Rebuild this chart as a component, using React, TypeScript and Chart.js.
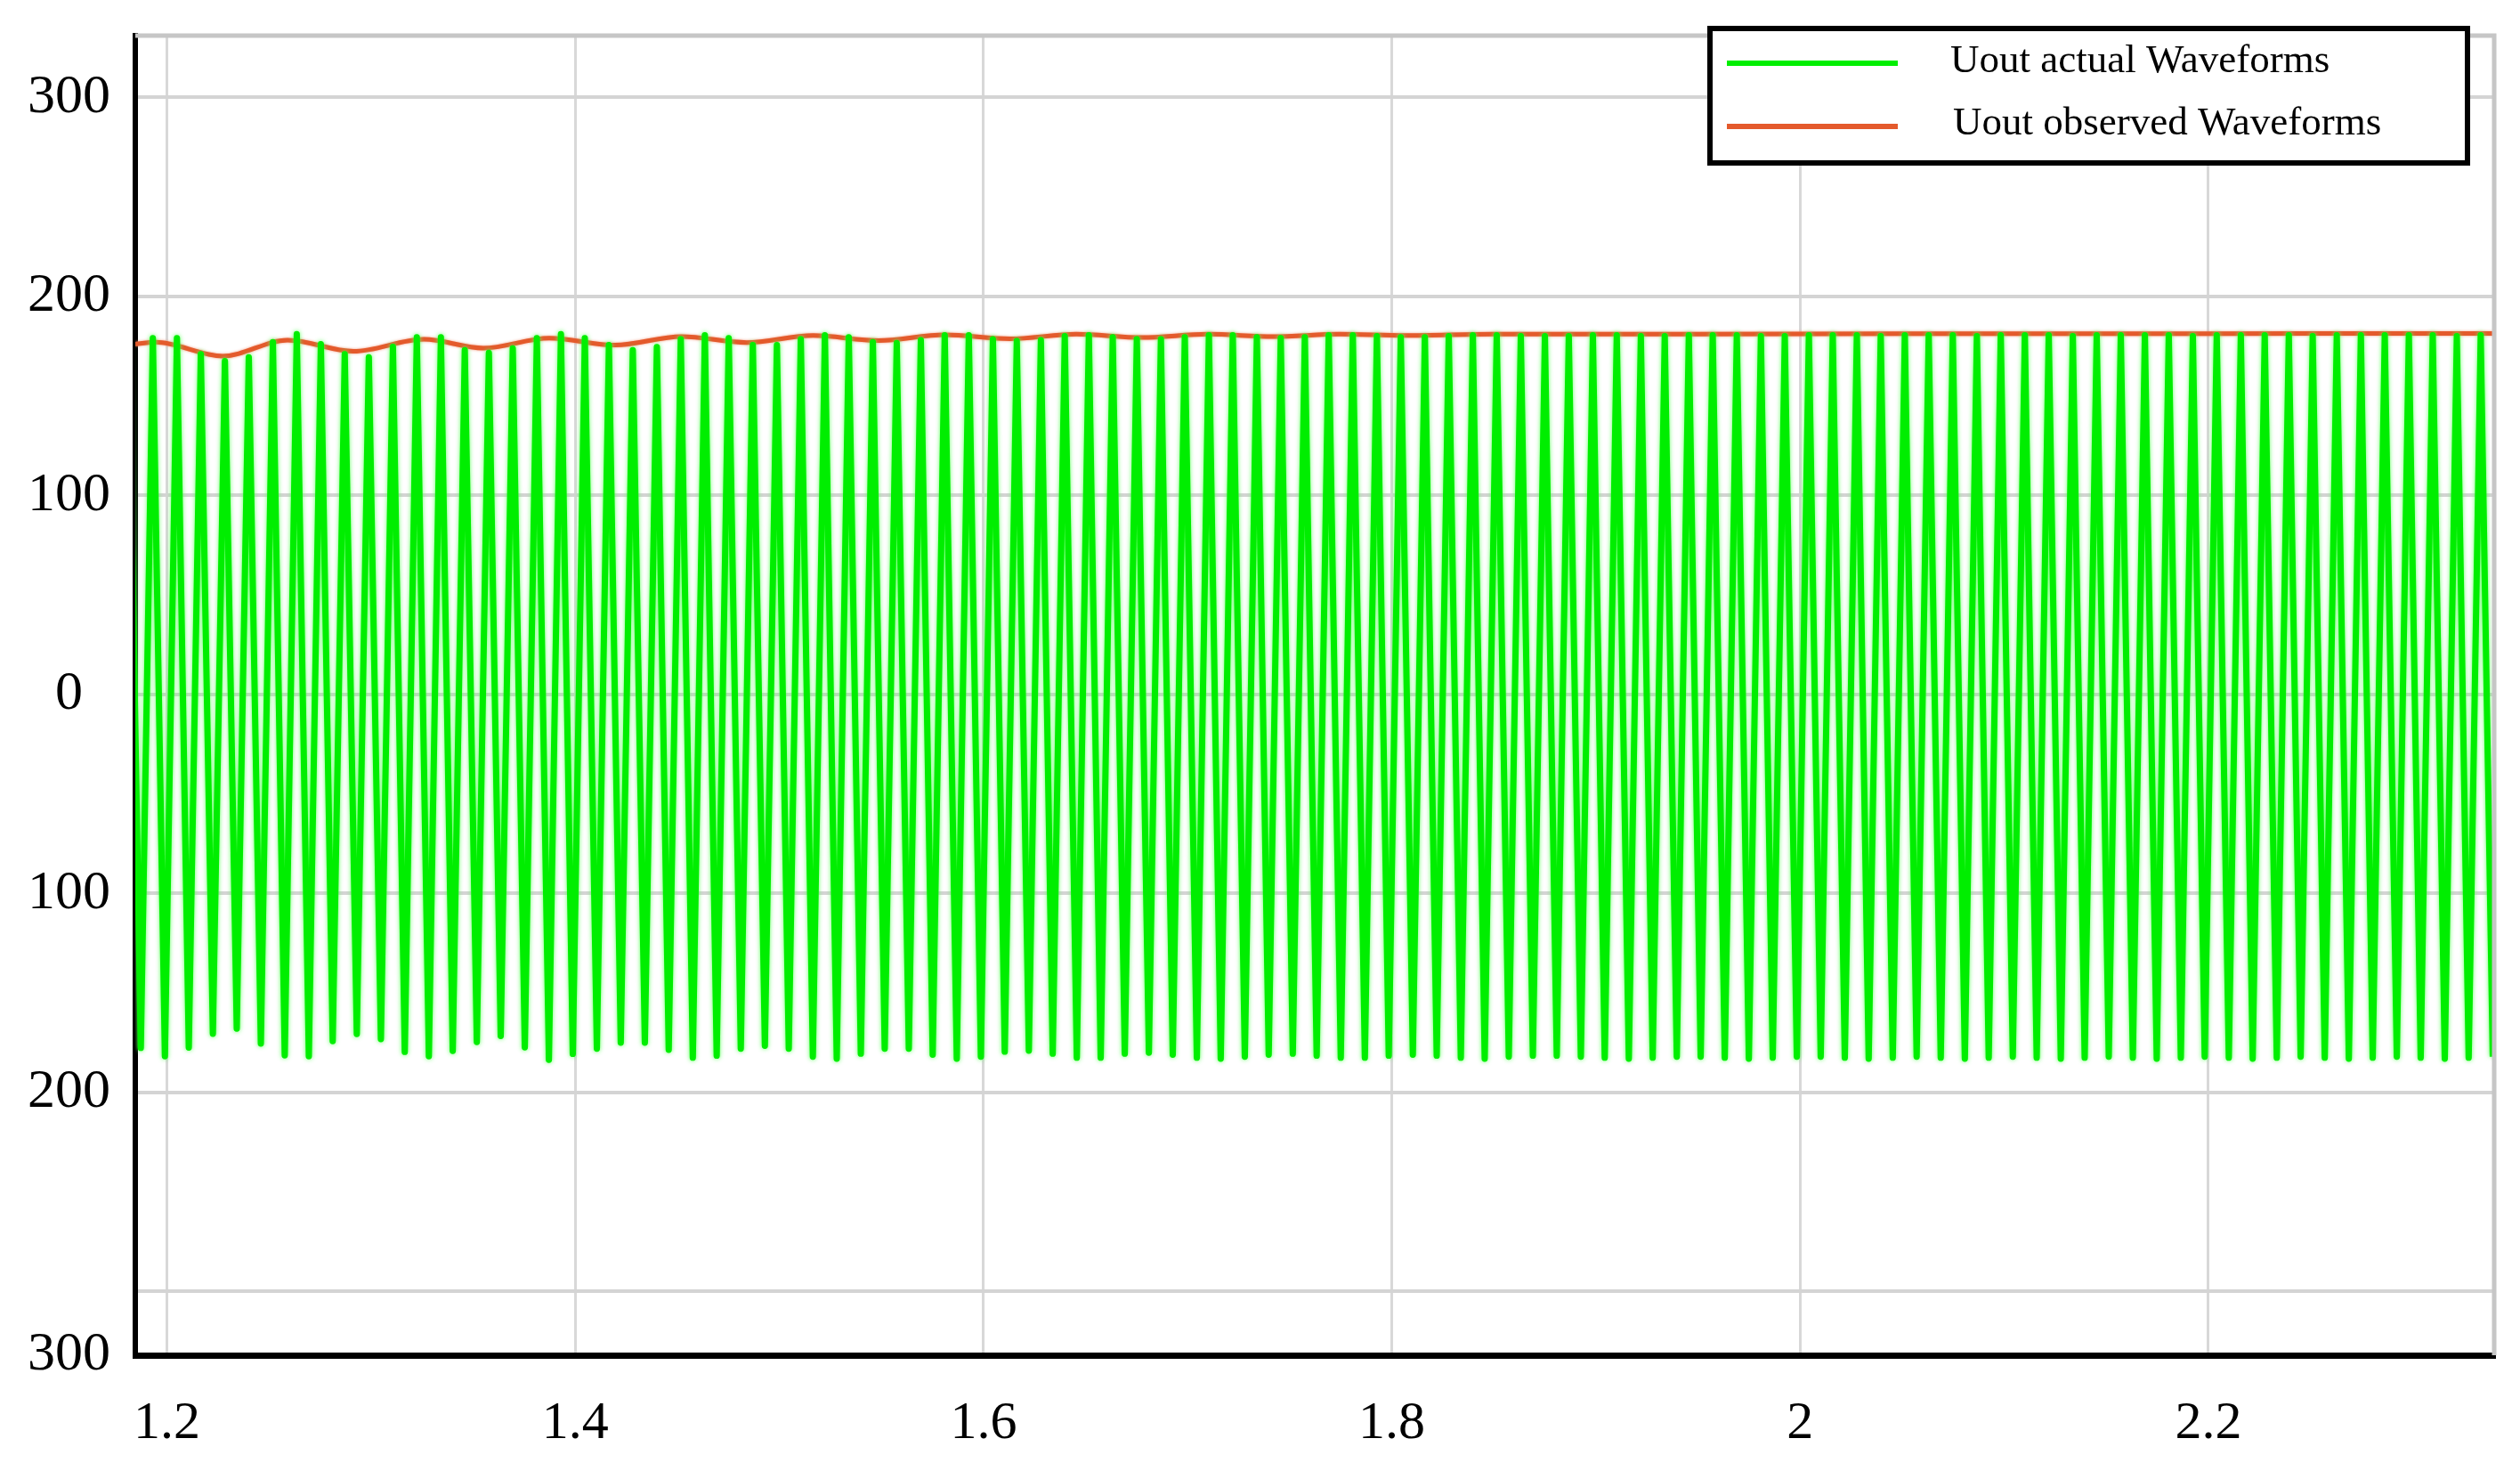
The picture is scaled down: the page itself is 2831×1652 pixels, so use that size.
import React, { useEffect, useRef } from "react";
import { Chart, registerables } from "chart.js";

Chart.register(...registerables);

// ---------- data ----------
const seriesLabels = ["Uout actual Waveforms", "Uout observed Waveforms"];
const seriesColors = ["#00EE00", "#E45A2C"];

// actual waveform: alternating peaks and troughs
const actualPeakTimes = [
  1.1813, 1.1931, 1.2049, 1.2166, 1.2284, 1.2401, 1.2519, 1.2636, 1.2754, 1.2871, 1.2989,
  1.3107, 1.3224, 1.3342, 1.3459, 1.3577, 1.3694, 1.3812, 1.3930, 1.4047, 1.4165,
  1.4282, 1.4400, 1.4517, 1.4635, 1.4752, 1.4870, 1.4988, 1.5105, 1.5223, 1.5340,
  1.5458, 1.5575, 1.5693, 1.5810, 1.5928, 1.6046, 1.6163, 1.6281, 1.6398, 1.6516,
  1.6633, 1.6751, 1.6869, 1.6986, 1.7104, 1.7221, 1.7339, 1.7456, 1.7574, 1.7691,
  1.7809, 1.7927, 1.8044, 1.8162, 1.8279, 1.8397, 1.8514, 1.8632, 1.8750, 1.8867,
  1.8985, 1.9102, 1.9220, 1.9337, 1.9455, 1.9572, 1.9690, 1.9808, 1.9925, 2.0043,
  2.0160, 2.0278, 2.0395, 2.0513, 2.0630, 2.0748, 2.0866, 2.0983, 2.1101, 2.1218,
  2.1336, 2.1453, 2.1571, 2.1689, 2.1806, 2.1924, 2.2041, 2.2159, 2.2276, 2.2394,
  2.2511, 2.2629, 2.2747, 2.2864, 2.2982, 2.3099, 2.3217, 2.3334,
];
const actualPeakValues = [
  176, 179, 179, 171, 167.5, 169.4, 177, 181, 176, 171, 169.4,
  174.6, 179.4, 179.4, 173, 171.6, 173.9, 179, 181, 179, 175.5,
  173, 174.5, 178.5, 180.5, 179, 175.5, 175.5, 178.5, 180.5, 179.5,
  177, 176.5, 178, 180.5, 180.5, 178.5, 177.5, 178, 180, 180.5,
  179.5, 178.5, 178.5, 179.5, 180.5, 180.5, 179.5, 179, 179.5, 180.5,
  180.5, 180, 179.5, 179.5, 180, 180.5, 180.5, 180, 180, 180,
  180.5, 180.5, 180, 180, 180.5, 180.5, 180.5, 180, 180, 180.5,
  180.5, 180.5, 180, 180.5, 180.5, 180.5, 180, 180.5, 180.5, 180.5,
  180, 180.5, 180.5, 180.5, 180.5, 180, 180.5, 180.5, 180.5, 180.5,
  180, 180.5, 180.5, 180.5, 180.5, 180.5, 180, 180.5,
];
const actualTroughTimes = [
  1.1872, 1.1990, 1.2107, 1.2225, 1.2342, 1.2460, 1.2577, 1.2695, 1.2812, 1.2930,
  1.3048, 1.3165, 1.3283, 1.3400, 1.3518, 1.3635, 1.3753, 1.3871, 1.3988, 1.4106,
  1.4223, 1.4341, 1.4458, 1.4576, 1.4693, 1.4811, 1.4929, 1.5046, 1.5164, 1.5281,
  1.5399, 1.5516, 1.5634, 1.5751, 1.5869, 1.5987, 1.6104, 1.6222, 1.6339, 1.6457,
  1.6574, 1.6692, 1.6810, 1.6927, 1.7045, 1.7162, 1.7280, 1.7397, 1.7515, 1.7632,
  1.7750, 1.7868, 1.7985, 1.8103, 1.8220, 1.8338, 1.8455, 1.8573, 1.8691, 1.8808,
  1.8926, 1.9043, 1.9161, 1.9278, 1.9396, 1.9513, 1.9631, 1.9749, 1.9866, 1.9984,
  2.0101, 2.0219, 2.0336, 2.0454, 2.0571, 2.0689, 2.0807, 2.0924, 2.1042, 2.1159,
  2.1277, 2.1394, 2.1512, 2.1630, 2.1747, 2.1865, 2.1982, 2.2100, 2.2217, 2.2335,
  2.2452, 2.2570, 2.2688, 2.2805, 2.2923, 2.3040, 2.3158, 2.3275, 2.3393,
];
const actualTroughValues = [
  -177.6, -181.8, -177.4, -170.5, -167.9, -175.4, -181.3, -181.8, -174.2, -170.6,
  -173.2, -179.6, -181.8, -179.1, -174.6, -171.6, -177.3, -183.6, -180.6, -178,
  -175, -175, -178.5, -182.5, -181.5, -178, -176.5, -178, -182, -183,
  -180.5, -178, -178, -181, -183, -182, -179.5, -179, -180.5, -182.5,
  -182.5, -180.5, -180, -181, -182.5, -183, -182, -181, -180.5, -181.5,
  -182.5, -182.5, -181.5, -181, -181.5, -182.5, -183, -182, -181.5, -181.5,
  -182, -182.5, -183, -182.5, -182, -182, -182.5, -183, -182.5, -182,
  -182, -182.5, -183, -182.5, -182, -182.5, -183, -182.5, -182, -182.5,
  -183, -182.5, -182, -182.5, -183, -182.5, -182, -182.5, -183, -182.5,
  -182, -182.5, -183, -182.5, -182, -182.5, -183, -182.5, -182,
];

// observed waveform (smooth envelope)
const observedTimes = [
  1.1845, 1.1945, 1.2273, 1.2591, 1.2914, 1.3258, 1.355, 1.3873, 1.4195, 1.452,
  1.484, 1.5165, 1.5485, 1.581, 1.613, 1.6455, 1.6775, 1.71, 1.742, 1.7745,
  1.8065, 1.85, 1.95, 2.05, 2.15, 2.25, 2.34,
];
const observedValues = [
  176, 177, 170, 178, 172.4, 178.4, 174, 179, 175.5, 179.8,
  176.8, 180.3, 177.8, 180.7, 178.7, 181, 179.3, 181, 179.8, 181,
  180.3, 181, 181, 181.2, 181.2, 181.3, 181.3,
];

const xTickValues = [1.2, 1.4, 1.6, 1.8, 2.0, 2.2];
const xTickLabels = ["1.2", "1.4", "1.6", "1.8", "2", "2.2"];
const yTickValues = [-332, -300, -200, -100, 0, 100, 200, 300];
const yTickLabels = ["300", "", "200", "100", "0", "100", "200", "300"];
const xRange = [1.1845, 2.34];
const yRange = [-332, 331];

// ---------- helpers ----------
function buildActualPoints() {
  const pts: { x: number; y: number }[] = [];
  const n = Math.max(actualPeakTimes.length, actualTroughTimes.length);
  for (let i = 0; i < n; i++) {
    if (i < actualPeakTimes.length) pts.push({ x: actualPeakTimes[i], y: actualPeakValues[i] });
    if (i < actualTroughTimes.length) pts.push({ x: actualTroughTimes[i], y: actualTroughValues[i] });
  }
  return pts;
}

const SERIF = "'Liberation Serif', 'Times New Roman', Times, serif";

// soft halo around the plotted traces (anti-aliased look of the original)
const glowPlugin = {
  id: "traceGlow",
  beforeDatasetDraw(chart: any, args: any) {
    const ctx = chart.ctx;
    ctx.save();
    if (args.index === 0) {
      ctx.shadowColor = "rgba(90,255,90,0.95)";
      ctx.shadowBlur = 5;
    } else {
      ctx.shadowColor = "rgba(240,140,110,0.9)";
      ctx.shadowBlur = 3;
    }
  },
  afterDatasetDraw(chart: any) {
    chart.ctx.restore();
  },
};

const frameLegendPlugin = {
  id: "frameLegend",
  afterDraw(chart: any) {
    const { ctx, chartArea } = chart;
    ctx.save();
    // grey top / right frame
    ctx.strokeStyle = "#c6c6c6";
    ctx.lineWidth = 5;
    ctx.beginPath();
    ctx.moveTo(chartArea.left, chartArea.top);
    ctx.lineTo(chartArea.right, chartArea.top);
    ctx.lineTo(chartArea.right, chartArea.bottom);
    ctx.stroke();

    // legend box
    const right = chartArea.right - 30;
    const left = right - 851;
    const top = chartArea.top - 8;
    const bottom = top + 151;
    ctx.fillStyle = "#ffffff";
    ctx.fillRect(left, top, right - left, bottom - top);
    ctx.strokeStyle = "#000000";
    ctx.lineWidth = 6;
    ctx.strokeRect(left, top, right - left, bottom - top);

    const datasets = chart.data.datasets;
    ctx.font = `45px ${SERIF}`;
    ctx.textBaseline = "middle";
    ctx.textAlign = "left";
    datasets.forEach((ds: any, i: number) => {
      const ly = top + 39 + i * 71;
      ctx.strokeStyle = ds.borderColor;
      ctx.lineWidth = 6;
      ctx.lineCap = "butt";
      ctx.beginPath();
      ctx.moveTo(left + 19, ly);
      ctx.lineTo(left + 211, ly);
      ctx.stroke();
      ctx.fillStyle = "#000000";
      ctx.fillText(ds.label, left + 270 + i * 3, top + 37 + i * 70);
    });
    ctx.restore();
  },
};

export default function App() {
  const canvasRef = useRef<HTMLCanvasElement | null>(null);

  useEffect(() => {
    if (!canvasRef.current) return;
    const chart = new Chart(canvasRef.current, {
      type: "line",
      data: {
        datasets: [
          {
            label: seriesLabels[0],
            data: buildActualPoints(),
            borderColor: seriesColors[0],
            backgroundColor: seriesColors[0],
            borderWidth: 7,
            borderJoinStyle: "round",
            pointRadius: 0,
            tension: 0,
            clip: 0,
          },
          {
            label: seriesLabels[1],
            data: observedTimes.map((t, i) => ({ x: t, y: observedValues[i] })),
            borderColor: seriesColors[1],
            backgroundColor: seriesColors[1],
            borderWidth: 5,
            pointRadius: 0,
            cubicInterpolationMode: "monotone",
            clip: 0,
          },
        ],
      },
      options: {
        responsive: false,
        animation: false,
        devicePixelRatio: 1,
        events: [],
        layout: { padding: { top: 40, right: 29, left: 0, bottom: 0 } },
        plugins: {
          legend: { display: false },
          tooltip: { enabled: false },
          title: { display: false },
        },
        scales: {
          x: {
            type: "linear",
            min: xRange[0],
            max: xRange[1],
            afterBuildTicks: (axis: any) => {
              axis.ticks = xTickValues.map((v) => ({ value: v }));
            },
            afterFit: (axis: any) => {
              axis.height = 130;
              axis.paddingLeft = 0;
              axis.paddingRight = 0;
            },
            ticks: {
              autoSkip: false,
              maxRotation: 0,
              padding: 41,
              color: "#000000",
              font: { family: SERIF, size: 60 },
              callback: (_v: any, i: number) => xTickLabels[i],
            },
            grid: { color: "#d8d8d8", lineWidth: 3, drawTicks: false },
            border: { color: "#000000", width: 7 },
          },
          y: {
            type: "linear",
            min: yRange[0],
            max: yRange[1],
            afterBuildTicks: (axis: any) => {
              axis.ticks = yTickValues.map((v) => ({ value: v }));
            },
            afterFit: (axis: any) => {
              axis.width = 152;
              axis.paddingTop = 0;
              axis.paddingBottom = 0;
            },
            ticks: {
              autoSkip: false,
              padding: 28,
              crossAlign: "center",
              color: "#000000",
              font: { family: SERIF, size: 62 },
              callback: (_v: any, i: number) => yTickLabels[i],
            },
            grid: { color: "#d4d4d4", lineWidth: 4, drawTicks: false },
            border: { color: "#000000", width: 6 },
          },
        },
      },
      plugins: [glowPlugin, frameLegendPlugin],
    } as any);
    return () => chart.destroy();
  }, []);

  return (
    <div style={{ position: "absolute", left: 0, top: 0, width: 2831, height: 1652, background: "#ffffff" }}>
      <canvas ref={canvasRef} width={2831} height={1652} style={{ display: "block" }} />
    </div>
  );
}
